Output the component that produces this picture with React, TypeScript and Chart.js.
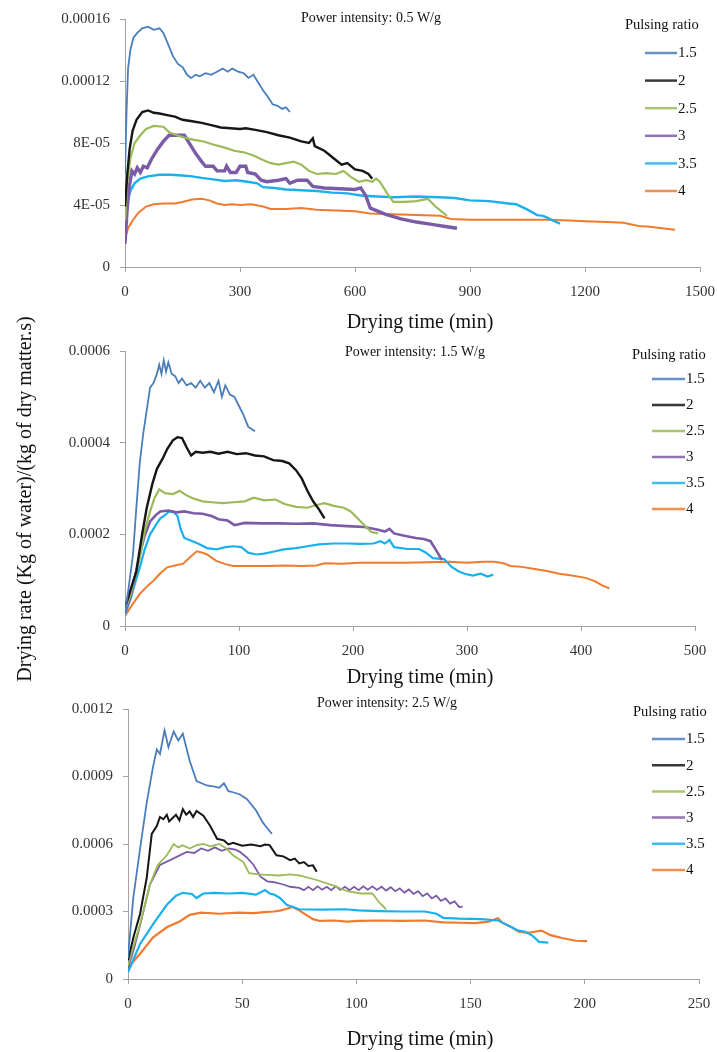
import React, { useEffect, useRef } from 'react';
import { Chart, registerables } from 'chart.js';

Chart.register(...registerables);

type Pt = [number, number];

// ---------- shared ----------
const seriesLabels = ['1.5', '2', '2.5', '3', '3.5', '4'];
const legendTitle = 'Pulsing ratio';
const xAxisTitle = 'Drying time (min)';
const yAxisTitle = 'Drying rate (Kg of water)/(kg of dry matter.s)';

// ---------- panel 1 : 0.5 W/g ----------
const p1Title = 'Power intensity: 0.5 W/g';
const p1XTicks = [0, 300, 600, 900, 1200, 1500];
const p1YTicks = [0, 0.00004, 0.00008, 0.00012, 0.00016];
const p1YLabels = ['0', '4E-05', '8E-05', '0.00012', '0.00016'];

const p1s15: Pt[] = [[0,6.0e-5],[4,10.0e-5],[8,12.8e-5],[14,14.0e-5],[22,14.8e-5],[32,15.1e-5],[45,15.4e-5],[60,15.5e-5],[75,15.3e-5],[90,15.4e-5],[100,15.1e-5],[112,14.4e-5],[125,13.6e-5],[138,13.1e-5],[150,12.9e-5],[162,12.4e-5],[172,12.2e-5],[185,12.4e-5],[195,12.3e-5],[210,12.5e-5],[225,12.4e-5],[240,12.6e-5],[255,12.8e-5],[268,12.6e-5],[280,12.8e-5],[295,12.6e-5],[310,12.5e-5],[322,12.2e-5],[335,12.4e-5],[345,12.0e-5],[360,11.4e-5],[372,11.0e-5],[385,10.5e-5],[398,10.4e-5],[410,10.2e-5],[420,10.3e-5],[430,10.0e-5]];
const p1s2: Pt[] = [[0,3.9e-5],[6,6.0e-5],[12,7.6e-5],[20,8.8e-5],[30,9.5e-5],[45,10.0e-5],[60,10.1e-5],[75,9.95e-5],[90,9.9e-5],[110,9.8e-5],[130,9.7e-5],[150,9.5e-5],[175,9.4e-5],[200,9.3e-5],[225,9.15e-5],[250,9.0e-5],[275,8.95e-5],[300,8.9e-5],[315,8.95e-5],[340,8.85e-5],[370,8.7e-5],[400,8.5e-5],[430,8.35e-5],[460,8.1e-5],[480,8.0e-5],[490,8.3e-5],[495,7.8e-5],[520,7.5e-5],[545,7.0e-5],[565,6.6e-5],[580,6.7e-5],[600,6.3e-5],[620,6.2e-5],[635,6.0e-5],[645,5.7e-5]];
const p1s25: Pt[] = [[0,3.0e-5],[6,5.5e-5],[14,7.0e-5],[25,8.0e-5],[40,8.5e-5],[55,8.9e-5],[75,9.1e-5],[100,9.05e-5],[115,8.7e-5],[135,8.5e-5],[155,8.35e-5],[180,8.2e-5],[205,8.1e-5],[230,7.9e-5],[260,7.7e-5],[285,7.5e-5],[310,7.4e-5],[335,7.2e-5],[360,6.9e-5],[380,6.7e-5],[400,6.6e-5],[420,6.7e-5],[440,6.8e-5],[460,6.6e-5],[480,6.2e-5],[500,6.0e-5],[525,6.05e-5],[550,6.0e-5],[570,6.2e-5],[590,5.8e-5],[610,5.5e-5],[630,5.6e-5],[645,5.5e-5],[655,5.7e-5],[665,5.5e-5],[685,4.7e-5],[700,4.2e-5],[730,4.2e-5],[760,4.25e-5],[790,4.4e-5],[810,3.9e-5],[840,3.3e-5]];
const p1s3: Pt[] = [[0,1.5e-5],[5,3.5e-5],[10,5.0e-5],[18,6.2e-5],[25,6.0e-5],[32,6.4e-5],[40,6.1e-5],[48,6.5e-5],[58,6.4e-5],[70,7.0e-5],[85,7.6e-5],[100,8.1e-5],[115,8.5e-5],[135,8.5e-5],[155,8.5e-5],[170,7.9e-5],[185,7.3e-5],[200,6.8e-5],[210,6.5e-5],[230,6.5e-5],[240,6.2e-5],[260,6.2e-5],[265,6.5e-5],[275,6.1e-5],[290,6.1e-5],[300,6.5e-5],[315,6.5e-5],[320,6.1e-5],[340,6.0e-5],[355,5.6e-5],[370,5.5e-5],[400,5.6e-5],[420,5.7e-5],[430,5.4e-5],[450,5.6e-5],[475,5.6e-5],[490,5.2e-5],[520,5.1e-5],[560,5.05e-5],[600,5.0e-5],[615,5.1e-5],[628,4.6e-5],[640,3.8e-5],[680,3.4e-5],[720,3.1e-5],[760,2.9e-5],[800,2.75e-5],[840,2.6e-5],[866,2.5e-5]];
const p1s35: Pt[] = [[0,3.2e-5],[6,4.2e-5],[14,4.9e-5],[25,5.4e-5],[40,5.7e-5],[60,5.85e-5],[90,5.95e-5],[120,5.95e-5],[150,5.9e-5],[175,5.85e-5],[200,5.75e-5],[230,5.65e-5],[260,5.55e-5],[290,5.6e-5],[320,5.5e-5],[345,5.4e-5],[360,5.15e-5],[390,5.1e-5],[420,5.0e-5],[460,4.95e-5],[500,4.9e-5],[540,4.8e-5],[580,4.75e-5],[620,4.6e-5],[660,4.55e-5],[700,4.5e-5],[760,4.55e-5],[820,4.5e-5],[860,4.45e-5],[900,4.3e-5],[950,4.25e-5],[1000,4.1e-5],[1020,4.05e-5],[1050,3.7e-5],[1075,3.35e-5],[1090,3.3e-5],[1100,3.2e-5],[1120,2.95e-5],[1135,2.8e-5]];
const p1s4: Pt[] = [[0,1.85e-5],[8,2.5e-5],[20,3.0e-5],[35,3.5e-5],[55,3.9e-5],[75,4.05e-5],[100,4.1e-5],[130,4.1e-5],[150,4.2e-5],[175,4.35e-5],[200,4.4e-5],[220,4.3e-5],[240,4.1e-5],[260,4.0e-5],[280,4.05e-5],[300,4.0e-5],[330,4.05e-5],[360,3.9e-5],[380,3.75e-5],[420,3.75e-5],[460,3.8e-5],[500,3.7e-5],[550,3.65e-5],[600,3.6e-5],[640,3.45e-5],[700,3.4e-5],[760,3.35e-5],[822,3.3e-5],[850,3.1e-5],[900,3.05e-5],[1000,3.05e-5],[1100,3.05e-5],[1160,3.0e-5],[1200,2.95e-5],[1260,2.9e-5],[1300,2.85e-5],[1340,2.65e-5],[1370,2.6e-5],[1400,2.5e-5],[1435,2.4e-5]];

// ---------- panel 2 : 1.5 W/g ----------
const p2Title = 'Power intensity: 1.5 W/g';
const p2XTicks = [0, 100, 200, 300, 400, 500];
const p2YTicks = [0, 0.0002, 0.0004, 0.0006];
const p2YLabels = ['0', '0.0002', '0.0004', '0.0006'];

const p2s15: Pt[] = [[0,3e-5],[3,8e-5],[7,1.56e-4],[10,2.6e-4],[13,3.57e-4],[16,4.2e-4],[19,4.7e-4],[22,5.2e-4],[25,5.3e-4],[28,5.5e-4],[30,5.7e-4],[32,5.5e-4],[34,5.8e-4],[36,5.55e-4],[38,5.75e-4],[41,5.5e-4],[44,5.45e-4],[47,5.3e-4],[50,5.4e-4],[54,5.25e-4],[58,5.3e-4],[62,5.2e-4],[66,5.35e-4],[70,5.2e-4],[74,5.3e-4],[78,5.1e-4],[82,5.35e-4],[85,5.0e-4],[88,5.25e-4],[92,5.05e-4],[96,5.0e-4],[100,4.8e-4],[104,4.6e-4],[108,4.35e-4],[111,4.3e-4],[114,4.25e-4]];
const p2s2: Pt[] = [[0,4e-5],[5,8e-5],[10,1.2e-4],[15,2.0e-4],[19,2.57e-4],[24,3.1e-4],[28,3.43e-4],[33,3.65e-4],[37,3.86e-4],[42,4.05e-4],[46,4.12e-4],[50,4.1e-4],[54,3.9e-4],[58,3.72e-4],[62,3.8e-4],[68,3.78e-4],[75,3.8e-4],[82,3.76e-4],[90,3.8e-4],[98,3.75e-4],[106,3.77e-4],[114,3.72e-4],[122,3.7e-4],[130,3.62e-4],[138,3.6e-4],[144,3.55e-4],[150,3.4e-4],[155,3.22e-4],[160,2.95e-4],[165,2.72e-4],[170,2.55e-4],[175,2.35e-4]];
const p2s25: Pt[] = [[0,3.5e-5],[5,7e-5],[9,1.1e-4],[13,1.5e-4],[17,2.05e-4],[22,2.5e-4],[26,2.8e-4],[30,2.98e-4],[35,2.9e-4],[42,2.88e-4],[48,2.95e-4],[54,2.85e-4],[60,2.78e-4],[68,2.72e-4],[76,2.7e-4],[86,2.68e-4],[95,2.7e-4],[105,2.72e-4],[113,2.8e-4],[122,2.74e-4],[132,2.76e-4],[140,2.66e-4],[150,2.6e-4],[160,2.58e-4],[168,2.64e-4],[175,2.68e-4],[183,2.62e-4],[192,2.58e-4],[198,2.5e-4],[204,2.35e-4],[210,2.2e-4],[216,2.05e-4],[222,2.02e-4]];
const p2s3: Pt[] = [[0,3e-5],[5,6.5e-5],[9,1.1e-4],[13,1.56e-4],[17,1.95e-4],[22,2.28e-4],[27,2.42e-4],[31,2.5e-4],[38,2.52e-4],[45,2.48e-4],[52,2.5e-4],[60,2.46e-4],[68,2.45e-4],[76,2.4e-4],[82,2.33e-4],[90,2.3e-4],[96,2.2e-4],[105,2.25e-4],[120,2.24e-4],[135,2.24e-4],[150,2.23e-4],[165,2.24e-4],[180,2.2e-4],[195,2.18e-4],[210,2.16e-4],[222,2.1e-4],[228,2.06e-4],[232,2.12e-4],[236,2.02e-4],[245,1.97e-4],[255,1.92e-4],[262,1.9e-4],[268,1.85e-4],[273,1.65e-4],[278,1.44e-4]];
const p2s35: Pt[] = [[0,2.5e-5],[5,6e-5],[9,9.5e-5],[13,1.28e-4],[17,1.65e-4],[22,2.0e-4],[27,2.2e-4],[31,2.35e-4],[35,2.42e-4],[39,2.5e-4],[43,2.48e-4],[46,2.4e-4],[49,2.1e-4],[52,1.92e-4],[57,1.87e-4],[64,1.8e-4],[72,1.7e-4],[80,1.67e-4],[88,1.72e-4],[95,1.74e-4],[102,1.72e-4],[108,1.6e-4],[115,1.56e-4],[122,1.58e-4],[130,1.62e-4],[139,1.67e-4],[150,1.7e-4],[160,1.74e-4],[170,1.78e-4],[183,1.8e-4],[195,1.8e-4],[206,1.79e-4],[218,1.8e-4],[224,1.85e-4],[228,1.8e-4],[232,1.88e-4],[236,1.72e-4],[248,1.68e-4],[258,1.68e-4],[264,1.6e-4],[270,1.48e-4],[280,1.46e-4],[286,1.3e-4],[292,1.2e-4],[298,1.14e-4],[305,1.1e-4],[312,1.14e-4],[318,1.08e-4],[323,1.12e-4]];
const p2s4: Pt[] = [[0,2.2e-5],[6,4.5e-5],[13,7.0e-5],[20,8.8e-5],[25,9.9e-5],[31,1.15e-4],[37,1.28e-4],[44,1.32e-4],[51,1.36e-4],[57,1.5e-4],[63,1.63e-4],[68,1.6e-4],[72,1.56e-4],[80,1.42e-4],[88,1.35e-4],[95,1.31e-4],[110,1.31e-4],[125,1.31e-4],[140,1.32e-4],[155,1.31e-4],[168,1.32e-4],[175,1.37e-4],[190,1.36e-4],[206,1.38e-4],[225,1.38e-4],[245,1.38e-4],[265,1.39e-4],[285,1.4e-4],[300,1.38e-4],[315,1.4e-4],[324,1.4e-4],[332,1.37e-4],[338,1.31e-4],[348,1.29e-4],[358,1.25e-4],[370,1.2e-4],[381,1.14e-4],[392,1.1e-4],[404,1.05e-4],[412,9.8e-5],[419,8.8e-5],[425,8.2e-5]];

// ---------- panel 3 : 2.5 W/g ----------
const p3Title = 'Power intensity: 2.5 W/g';
const p3XTicks = [0, 50, 100, 150, 200, 250];
const p3YTicks = [0, 0.0003, 0.0006, 0.0009, 0.0012];
const p3YLabels = ['0', '0.0003', '0.0006', '0.0009', '0.0012'];

const p3s15: Pt[] = [[0,9.5e-5],[2.3,3.6e-4],[5.3,5.8e-4],[8.2,7.84e-4],[11,9.45e-4],[12.6,1.02e-3],[14,1.0e-3],[16,1.105e-3],[17.7,1.03e-3],[20,1.1e-3],[22,1.06e-3],[24,1.09e-3],[27,9.7e-4],[30,8.8e-4],[34.5,8.6e-4],[38,8.55e-4],[40,8.5e-4],[42,8.7e-4],[44,8.35e-4],[46,8.3e-4],[49,8.2e-4],[52,8.0e-4],[56,7.5e-4],[59,6.96e-4],[61,6.7e-4],[63,6.45e-4]];
const p3s2: Pt[] = [[0,8.3e-5],[2.5,1.9e-4],[5.3,2.9e-4],[8.2,4.5e-4],[10.4,6.45e-4],[12.6,6.8e-4],[14,7.2e-4],[15.5,7.1e-4],[17,7.3e-4],[18,7.0e-4],[20,7.2e-4],[21,7.3e-4],[22.5,7.05e-4],[24,7.55e-4],[25.5,7.3e-4],[27,7.45e-4],[28.5,7.2e-4],[30,7.47e-4],[33,7.26e-4],[36,6.8e-4],[39,6.23e-4],[42,6.16e-4],[44,5.98e-4],[46,6.05e-4],[50,5.92e-4],[54,5.98e-4],[58,5.9e-4],[60,5.98e-4],[62,5.95e-4],[65,5.5e-4],[68,5.45e-4],[71,5.28e-4],[73,5.35e-4],[75,5.14e-4],[77,5.2e-4],[79,5.02e-4],[81,5.05e-4],[82.6,4.77e-4]];
const p3s25: Pt[] = [[0,6e-5],[2.5,1.5e-4],[5.3,2.44e-4],[9.6,4.2e-4],[13,5.07e-4],[17,5.5e-4],[20,6.0e-4],[22,5.85e-4],[24,5.94e-4],[27,5.8e-4],[30,5.95e-4],[33,6.0e-4],[36,5.9e-4],[40,6.0e-4],[43,5.8e-4],[46,5.5e-4],[50.5,5.2e-4],[53,4.7e-4],[57,4.65e-4],[61,4.63e-4],[66,4.6e-4],[71,4.65e-4],[75,4.6e-4],[82.6,4.4e-4],[90,4.15e-4],[96,3.9e-4],[102,3.8e-4],[107,3.8e-4],[110,3.4e-4],[113,3.1e-4]];
const p3s3: Pt[] = [[0,4.7e-5],[2.5,1.3e-4],[5.3,2.4e-4],[9.6,4.2e-4],[14,5.07e-4],[20,5.36e-4],[25.7,5.65e-4],[29,5.6e-4],[32,5.8e-4],[35,5.7e-4],[38,5.85e-4],[41,5.7e-4],[44,5.8e-4],[47,5.75e-4],[49,5.65e-4],[52,5.4e-4],[55,5.07e-4],[58,4.55e-4],[61,4.34e-4],[64,4.3e-4],[68,4.2e-4],[71,4.1e-4],[75,4.05e-4],[77,3.95e-4],[79,4.1e-4],[81,3.95e-4],[83,4.12e-4],[85,3.97e-4],[87,4.1e-4],[89,3.95e-4],[91,4.12e-4],[93,3.96e-4],[95,4.1e-4],[97,3.95e-4],[99,4.1e-4],[101,3.95e-4],[103,4.12e-4],[105,3.97e-4],[107,4.12e-4],[109,3.96e-4],[111,4.1e-4],[113,3.93e-4],[115,4.08e-4],[117,3.9e-4],[119,4.03e-4],[121,3.84e-4],[123,3.98e-4],[125,3.78e-4],[127,3.9e-4],[129,3.68e-4],[131,3.8e-4],[133,3.58e-4],[135,3.7e-4],[137,3.47e-4],[139,3.58e-4],[141,3.35e-4],[143,3.45e-4],[145,3.2e-4],[146.5,3.22e-4]];
const p3s35: Pt[] = [[0,3e-5],[2.5,9e-5],[5.3,1.56e-4],[11,2.44e-4],[17,3.3e-4],[21,3.7e-4],[24,3.83e-4],[28,3.78e-4],[30,3.6e-4],[33,3.8e-4],[38,3.83e-4],[44,3.8e-4],[50,3.83e-4],[56,3.75e-4],[60,3.95e-4],[62,3.8e-4],[64,3.75e-4],[66.5,3.6e-4],[69.5,3.3e-4],[75,3.1e-4],[85,3.08e-4],[95,3.1e-4],[101,3.05e-4],[110,3.02e-4],[120,3.0e-4],[130,3.0e-4],[135,2.9e-4],[138,2.72e-4],[145,2.68e-4],[155,2.66e-4],[162,2.6e-4],[165,2.45e-4],[168,2.3e-4],[171,2.15e-4],[174,2.1e-4],[177,1.93e-4],[180,1.65e-4],[184,1.62e-4]];
const p3s4: Pt[] = [[0,4e-5],[2.5,8e-5],[5.3,1.12e-4],[11,1.85e-4],[17,2.3e-4],[23,2.58e-4],[27,2.85e-4],[32,2.95e-4],[40,2.9e-4],[48,2.95e-4],[55,2.93e-4],[61,2.98e-4],[64,3.0e-4],[67,3.05e-4],[69.5,3.12e-4],[72,3.2e-4],[75,3.05e-4],[78,2.85e-4],[81,2.66e-4],[84,2.58e-4],[90,2.6e-4],[96,2.55e-4],[101,2.58e-4],[110,2.6e-4],[120,2.58e-4],[130,2.6e-4],[138,2.52e-4],[145,2.5e-4],[152,2.48e-4],[158,2.55e-4],[162,2.7e-4],[164,2.5e-4],[168,2.3e-4],[171,2.1e-4],[175,2.05e-4],[178,2.1e-4],[181,2.15e-4],[185,1.95e-4],[190,1.82e-4],[196,1.7e-4],[201,1.68e-4]];

// ---------- styles ----------
const SERIF = '"Liberation Serif", "Times New Roman", serif';
const seriesColors = ['#4a7ebb', '#161616', '#9bbb59', '#7b5ba6', '#1ab0ee', '#ef7b2f'];
const AXIS_COLOR = '#a3a3a3';
const TICK_COLOR = '#333333';
const TEXT_COLOR = '#111111';

const panelTextPlugin = {
  id: 'panelText',
  afterDraw(chart: any, _args: any, o: any) {
    const ctx = chart.ctx as CanvasRenderingContext2D;
    ctx.save();
    ctx.fillStyle = TEXT_COLOR;
    ctx.textBaseline = 'middle';
    ctx.textAlign = 'center';
    ctx.font = `14px ${SERIF}`;
    ctx.fillText(o.title, o.titleX, o.titleY);
    ctx.font = `20px ${SERIF}`;
    ctx.fillText(xAxisTitle, o.xTitleX, o.xTitleY);
    ctx.textAlign = 'left';
    ctx.font = `14.5px ${SERIF}`;
    ctx.fillText(legendTitle, o.legendX, o.legendTitleY);
    ctx.font = `15px ${SERIF}`;
    chart.data.datasets.forEach((ds: any, i: number) => {
      const y = o.legendY + i * o.legendGap;
      ctx.strokeStyle = ds.borderColor;
      ctx.globalAlpha = 0.85;
      ctx.lineWidth = 2.5;
      ctx.beginPath();
      ctx.moveTo(o.lineX0, y);
      ctx.lineTo(o.lineX1, y);
      ctx.stroke();
      ctx.globalAlpha = 1;
      ctx.fillText(ds.label, o.lineX1 + 1, y + 0.5);
    });
    ctx.restore();
  },
};

interface PanelCfg {
  top: number;
  h: number;
  left: number;
  right: number;
  caTop: number;
  caBottom: number;
  xMax: number;
  yMax: number;
  xTicks: number[];
  yTicks: number[];
  yLabels: string[];
  series: Pt[][];
  widths: number[];
  text: any;
}

const panels: PanelCfg[] = [
  {
    top: 0, h: 340, left: 125, right: 700, caTop: 18, caBottom: 267,
    xMax: 1500, yMax: 0.00016, xTicks: p1XTicks, yTicks: p1YTicks, yLabels: p1YLabels,
    series: [p1s15, p1s2, p1s25, p1s3, p1s35, p1s4],
    widths: [1.8, 2.4, 2.2, 3.4, 2.4, 2],
    text: { title: p1Title, titleX: 371, titleY: 18, xTitleX: 420, xTitleY: 323, legendX: 625, legendTitleY: 25, legendY: 53, legendGap: 27.6, lineX0: 645, lineX1: 677 },
  },
  {
    top: 332, h: 358, left: 125, right: 695, caTop: 15, caBottom: 294,
    xMax: 500, yMax: 0.0006, xTicks: p2XTicks, yTicks: p2YTicks, yLabels: p2YLabels,
    series: [p2s15, p2s2, p2s25, p2s3, p2s35, p2s4],
    widths: [1.8, 2.4, 2.2, 2.6, 2.2, 2],
    text: { title: p2Title, titleX: 415, titleY: 20, xTitleX: 420, xTitleY: 346, legendX: 632, legendTitleY: 23, legendY: 47, legendGap: 26, lineX0: 652, lineX1: 685 },
  },
  {
    top: 690, h: 362, left: 128, right: 699, caTop: 15, caBottom: 289,
    xMax: 250, yMax: 0.0012, xTicks: p3XTicks, yTicks: p3YTicks, yLabels: p3YLabels,
    series: [p3s15, p3s2, p3s25, p3s3, p3s35, p3s4],
    widths: [1.8, 2, 1.8, 1.8, 2.2, 2.2],
    text: { title: p3Title, titleX: 387, titleY: 13, xTitleX: 420, xTitleY: 350, legendX: 633, legendTitleY: 22, legendY: 49, legendGap: 26.2, lineX0: 652, lineX1: 685 },
  },
];

function Panel({ cfg }: { cfg: PanelCfg }) {
  const ref = useRef<HTMLCanvasElement>(null);
  useEffect(() => {
    const canvas = ref.current!;
    const axisH = cfg.h - cfg.caBottom;
    const tickFont = { family: SERIF, size: 15 };
    const chart = new Chart(canvas, {
      type: 'line',
      data: {
        datasets: cfg.series.map((s, i) => ({
          label: seriesLabels[i],
          data: s.map(([x, y]) => ({ x, y })),
          borderColor: seriesColors[i],
          backgroundColor: seriesColors[i],
          borderWidth: cfg.widths[i],
          pointRadius: 0,
          tension: 0,
          fill: false,
        })),
      },
      options: {
        responsive: false,
        maintainAspectRatio: false,
        animation: false,
        events: [],
        layout: { padding: { left: 0, right: 717 - cfg.right, top: cfg.caTop, bottom: 0 } },
        plugins: {
          legend: { display: false },
          tooltip: { enabled: false },
          title: { display: false },
          panelText: cfg.text,
        } as any,
        scales: {
          x: {
            type: 'linear',
            min: 0,
            max: cfg.xMax,
            afterBuildTicks: (s: any) => { s.ticks = cfg.xTicks.map((v) => ({ value: v })); },
            afterFit: (s: any) => { s.height = axisH; s.paddingLeft = 0; s.paddingRight = 0; },
            ticks: { font: tickFont, color: TICK_COLOR, padding: 11, maxRotation: 0, autoSkip: false, callback: (v: any) => String(v) },
            grid: { drawOnChartArea: false, drawTicks: true, tickLength: 5, color: AXIS_COLOR },
            border: { display: true, color: AXIS_COLOR, width: 1 },
          },
          y: {
            type: 'linear',
            min: 0,
            max: cfg.yMax,
            afterBuildTicks: (s: any) => { s.ticks = cfg.yTicks.map((v) => ({ value: v })); },
            afterFit: (s: any) => { s.width = cfg.left; },
            ticks: { font: tickFont, color: TICK_COLOR, padding: 10, autoSkip: false, callback: (_v: any, i: number) => cfg.yLabels[i] },
            grid: { drawOnChartArea: false, drawTicks: true, tickLength: 5, color: AXIS_COLOR },
            border: { display: true, color: AXIS_COLOR, width: 1 },
          },
        },
      },
      plugins: [panelTextPlugin as any],
    });
    return () => chart.destroy();
  }, [cfg]);
  return (
    <canvas
      ref={ref}
      width={717}
      height={cfg.h}
      style={{ position: 'absolute', left: 0, top: cfg.top, width: 717, height: cfg.h }}
    />
  );
}

export default function App() {
  return (
    <div style={{ position: 'absolute', left: 0, top: 0, width: 717, height: 1052, background: '#ffffff', overflow: 'hidden' }}>
      {panels.map((p, i) => (
        <Panel key={i} cfg={p} />
      ))}
      <div
        style={{
          position: 'absolute',
          left: 24 - 220,
          top: 499 - 12,
          width: 440,
          height: 24,
          lineHeight: '24px',
          textAlign: 'center',
          transform: 'rotate(-90deg)',
          fontFamily: SERIF,
          fontSize: 20,
          color: TEXT_COLOR,
          whiteSpace: 'nowrap',
        }}
      >
        {yAxisTitle}
      </div>
    </div>
  );
}
